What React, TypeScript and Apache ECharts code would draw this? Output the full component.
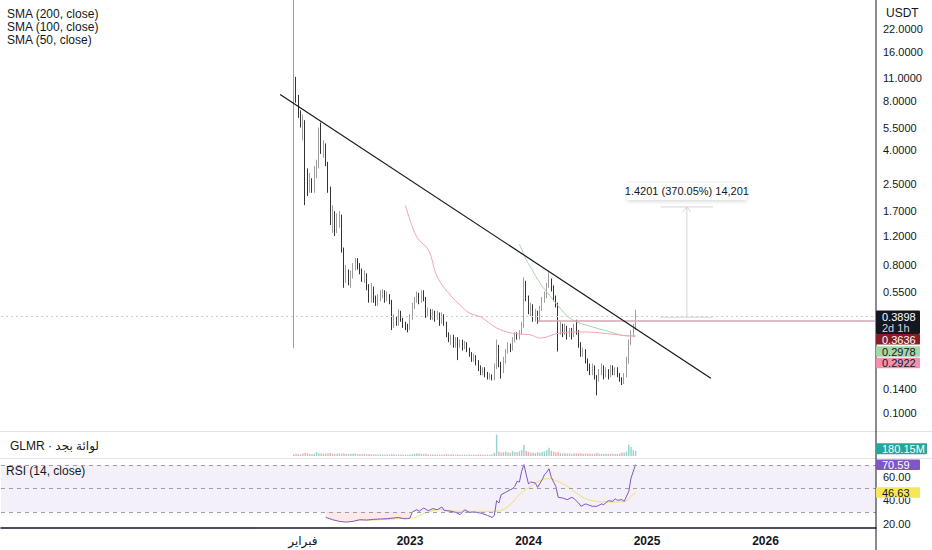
import React, { useEffect, useRef } from 'react';
import * as echarts from 'echarts';

// ---------- weekly slots of the time axis ----------
const TOTAL_WEEKS = 384;
const FIRST_WEEK = 128;

// ---------- GLMR/USDT weekly candles ----------
const OPEN = [0.25,10.3,8.1,6.6,5.7,6.0,2.83,2.3,2.6,2.3,
2.8,3.2,5.3,3.9,4.3,3.3,2.3,1.5,1.65,1.35,
1.55,1.6,1.0,0.65,0.72,0.62,0.7,0.78,0.84,0.8,
0.74,0.66,0.7,0.6,0.48,0.58,0.5,0.47,0.5,0.53,
0.55,0.49,0.52,0.48,0.34,0.38,0.35,0.41,0.37,0.35,
0.33,0.325,0.38,0.45,0.49,0.52,0.48,0.54,0.5,0.4,
0.42,0.39,0.41,0.38,0.4,0.36,0.39,0.35,0.3,0.28,
0.29,0.26,0.28,0.26,0.27,0.255,0.265,0.245,0.23,0.215,
0.22,0.205,0.19,0.18,0.185,0.172,0.165,0.17,0.162,0.19,
0.25,0.2,0.18,0.21,0.235,0.26,0.245,0.28,0.3,0.29,
0.31,0.34,0.62,0.5,0.42,0.45,0.38,0.41,0.37,0.43,
0.49,0.52,0.6,0.64,0.58,0.5,0.46,0.32,0.34,0.31,
0.33,0.3,0.32,0.3,0.33,0.31,0.26,0.23,0.24,0.21,
0.19,0.18,0.19,0.165,0.16,0.18,0.19,0.17,0.18,0.17,
0.19,0.175,0.185,0.17,0.16,0.155,0.17,0.21,0.27,0.3,
0.33];
const CLOSE = [9.5,8.1,6.6,5.7,6.0,2.83,2.3,2.6,2.3,2.8,
3.2,5.3,3.9,4.3,3.3,2.3,1.5,1.65,1.35,1.55,
1.6,1.0,0.65,0.72,0.62,0.7,0.78,0.84,0.8,0.74,
0.66,0.7,0.6,0.48,0.58,0.5,0.47,0.5,0.53,0.55,
0.49,0.52,0.48,0.34,0.38,0.35,0.41,0.37,0.35,0.33,
0.325,0.38,0.45,0.49,0.52,0.48,0.54,0.5,0.4,0.42,
0.39,0.41,0.38,0.4,0.36,0.39,0.35,0.3,0.28,0.29,
0.26,0.28,0.26,0.27,0.255,0.265,0.245,0.23,0.215,0.22,
0.205,0.19,0.18,0.185,0.172,0.165,0.17,0.162,0.19,0.25,
0.2,0.18,0.21,0.235,0.26,0.245,0.28,0.3,0.29,0.31,
0.34,0.62,0.5,0.42,0.45,0.38,0.41,0.37,0.43,0.49,
0.52,0.6,0.64,0.58,0.5,0.46,0.32,0.34,0.31,0.33,
0.3,0.32,0.3,0.33,0.31,0.26,0.23,0.24,0.21,0.19,
0.18,0.19,0.165,0.16,0.18,0.19,0.17,0.18,0.17,0.19,
0.175,0.185,0.17,0.16,0.155,0.17,0.21,0.27,0.3,0.33,
0.3898];
const LOW = [0.248,7.8,6.3,5.5,4.6,1.85,2.1,2.2,2.2,2.2,
2.7,3.1,3.8,3.6,3.2,2.2,1.4,1.25,1.2,1.25,
1.35,0.95,0.58,0.62,0.6,0.58,0.66,0.74,0.75,0.7,
0.63,0.62,0.56,0.47,0.47,0.47,0.45,0.45,0.48,0.5,
0.47,0.48,0.46,0.32,0.33,0.34,0.34,0.36,0.33,0.32,
0.31,0.32,0.37,0.43,0.47,0.46,0.47,0.48,0.38,0.39,
0.37,0.37,0.36,0.37,0.34,0.35,0.34,0.29,0.27,0.26,
0.25,0.25,0.21,0.25,0.24,0.245,0.235,0.22,0.205,0.205,
0.195,0.18,0.17,0.17,0.165,0.16,0.16,0.158,0.158,0.185,
0.19,0.162,0.175,0.2,0.23,0.235,0.24,0.27,0.28,0.28,
0.3,0.33,0.48,0.4,0.39,0.36,0.36,0.35,0.36,0.42,
0.47,0.5,0.58,0.55,0.48,0.44,0.237,0.3,0.29,0.3,
0.28,0.29,0.28,0.29,0.3,0.25,0.22,0.22,0.2,0.18,
0.17,0.17,0.16,0.128,0.155,0.17,0.16,0.165,0.16,0.165,
0.17,0.17,0.165,0.155,0.148,0.15,0.165,0.2,0.26,0.29,
0.32];
const HIGH = [45,11.2,8.7,7.0,6.6,6.1,3.1,2.9,2.7,3.2,
3.5,5.5,5.9,4.6,4.4,3.4,2.4,1.85,1.7,1.65,
1.7,1.62,1.02,0.8,0.75,0.74,0.82,0.88,0.88,0.82,
0.76,0.74,0.71,0.61,0.62,0.59,0.52,0.53,0.56,0.57,
0.56,0.55,0.53,0.49,0.4,0.39,0.43,0.42,0.38,0.36,
0.35,0.4,0.47,0.51,0.55,0.54,0.56,0.56,0.51,0.44,
0.43,0.43,0.42,0.42,0.41,0.41,0.4,0.36,0.31,0.3,
0.3,0.29,0.29,0.28,0.28,0.275,0.27,0.25,0.235,0.23,
0.225,0.21,0.195,0.19,0.19,0.178,0.175,0.172,0.2,0.28,
0.26,0.205,0.22,0.245,0.27,0.265,0.29,0.31,0.31,0.32,
0.36,0.67,0.64,0.52,0.47,0.46,0.43,0.42,0.45,0.51,
0.55,0.62,0.72,0.66,0.6,0.52,0.47,0.36,0.35,0.35,
0.34,0.33,0.33,0.35,0.37,0.32,0.27,0.25,0.245,0.215,
0.2,0.2,0.195,0.17,0.185,0.2,0.195,0.19,0.185,0.196,
0.195,0.19,0.19,0.175,0.165,0.175,0.22,0.28,0.32,0.35,
0.425];
// volume in millions
const VOLUME = [60,75,60,55,90,110,95,70,60,75,
140,100,95,80,90,85,105,80,70,75,
90,80,95,70,65,80,75,90,70,60,
65,75,60,70,55,60,50,55,60,50,
55,50,55,70,60,50,55,50,45,50,
45,55,60,75,100,85,70,65,75,55,
50,50,55,45,50,45,55,60,55,50,
60,45,50,45,45,40,45,50,45,40,
45,50,45,40,45,50,45,50,110,740,
160,120,130,150,120,110,170,140,130,160,
200,390,170,140,110,120,100,130,110,140,
160,200,290,180,150,120,140,100,90,95,
85,90,80,85,95,90,100,80,85,90,
80,75,85,110,80,75,70,75,70,80,
75,70,75,80,120,110,150,390,310,200,
180.15];

// ---------- indicators: [week, value] ----------
const SMA100 = [[99,1.07],[102,0.86],[104,0.77],[108,0.62],[111,0.547],[116,0.45],[122,0.372],[131,0.335],[139,0.312],[146,0.295],[150,0.2978]];
const SMA50 = [[49,1.85],[54,1.18],[59,0.99],[63,0.675],[69,0.517],[73,0.456],[77,0.407],[82,0.385],[89,0.33],[95,0.308],[99,0.303],[104,0.299],[108,0.286],[117,0.308],[126,0.312],[134,0.308],[143,0.299],[150,0.2922]];
const RSI = [[14,25.4],[17,23.4],[20,22],[23,21.4],[26,22],[29,23.4],[32,23.1],[35,23.7],[38,24],[41,24.3],[44,24.9],[46,25.4],[48,24.3],[50,24.3],[51,24.9],[52,30],[54,32],[55,30.6],[57,33.4],[59,31.1],[61,32.9],[63,32],[65,34.3],[66,31.4],[69,30.6],[71,29.7],[73,27.7],[75,32],[77,29.7],[79,30],[82,29.1],[85,27.1],[87,25.4],[88,27],[89,39.7],[90,37.7],[91,44.9],[93,46.9],[95,49.1],[96,50],[97,52],[98,56.3],[99,55.7],[100,64.9],[101,70.6],[102,62],[103,54],[104,55.7],[106,54.9],[107,51.1],[109,57.7],[110,62],[111,64],[112,67.1],[113,59.7],[114,55.7],[115,52],[116,42.6],[118,42],[120,40.6],[122,42.6],[123,41.4],[125,37.7],[126,34.9],[128,36.9],[129,36.3],[131,34.9],[133,34.9],[135,36.9],[136,36.3],[138,39.7],[140,39.1],[141,41.4],[142,40],[144,40.6],[145,39.1],[147,47.7],[148,59.1],[150,70.59]];
const RSI_MA = [[27,23.0],[34,23.1],[41,23.7],[48,24.6],[53,24.9],[55,27.1],[60,30.6],[64,32],[69,31.1],[73,30.6],[79,30.6],[85,30.6],[88,30.6],[91,31.4],[95,36.3],[99,44.9],[104,52],[108,56.9],[112,58.6],[115,56.9],[120,52],[124,46.3],[128,41.4],[133,39.1],[137,38.6],[143,38.6],[146,39.7],[148,43.4],[150,46.63]];
const RSI_LEVELS = [70, 50, 30];

// ---------- axes / drawings ----------
const PRICE_TICKS = [22, 16, 11, 8, 5.5, 4, 2.5, 1.7, 1.2, 0.8, 0.55, 0.14, 0.1];
const RSI_TICKS = [60, 40, 20];
const X_TICKS = [[4, 'فبراير'], [51, '2023'], [103, '2024'], [155, '2025'], [207, '2026']];
const TREND = [[-6, 8.76], [183, 0.163]];
const HRAY = [107, 0.3636];
const MEASURE_SPAN = [161, 184];
const MEASURE_RANGE = [0.3838, 1.8039];
const MEASURE_LABEL = '1.4201 (370.05%) 14,201';
const COUNTDOWN = '2d 1h';
const LEGEND = ['SMA (200, close)', 'SMA (100, close)', 'SMA (50, close)'];
const VOL_TITLE = 'GLMR · لوائة بجد';
const RSI_TITLE = 'RSI (14, close)';
const CURRENCY = 'USDT';

const FONT = '"Liberation Sans", Arial, "DejaVu Sans", sans-serif';
const TEXT = '#131722';
const UP = '#a9a9a9';
const UP_BORDER = '#858585';
const DOWN = '#000000';
const SMA100_COLOR = '#a5d6a7';
const SMA50_COLOR = '#f4a3b3';
const HRAY_COLOR = '#d3a7b0';
const RSI_COLOR = '#7e57c2';
const RSI_MA_COLOR = '#efe16a';

const K = (i: number) => FIRST_WEEK + i;
const CATS = Array.from({ length: TOTAL_WEEKS }, (_, k) => String(k));
const xLabelMap = new Map(X_TICKS.map(([i, l]) => [String(FIRST_WEEK + (i as number)), l as string]));

const GRID_L = 1;
const GRID_R = 56;

function buildOption(): any {
  const candleData = CLOSE.map((c, i) => [K(i), OPEN[i], c, LOW[i], HIGH[i]]);
  const volData = VOLUME.map((v, i) => ({
    value: [K(i), v],
    itemStyle: { color: CLOSE[i] >= OPEN[i] ? 'rgba(38,166,154,0.5)' : 'rgba(239,83,80,0.5)' },
  }));
  const toXY = (arr: number[][]) => arr.map(([i, v]) => [K(i), v]);
  const hidX = (gi: number) => ({
    type: 'category', gridIndex: gi, data: CATS, boundaryGap: true, show: false,
  });
  return {
    animation: false,
    textStyle: { fontFamily: FONT },
    grid: [
      { left: GRID_L, right: GRID_R, top: 0, height: 430, outerBoundsMode: 'none' },
      { left: GRID_L, right: GRID_R, top: 433, height: 23, outerBoundsMode: 'none' },
      { left: GRID_L, right: GRID_R, top: 461, height: 67, outerBoundsMode: 'none' },
    ],
    xAxis: [
      hidX(0),
      hidX(1),
      {
        type: 'category', gridIndex: 2, data: CATS, boundaryGap: true,
        axisLine: { show: true, lineStyle: { color: TEXT, width: 1.5 } },
        axisTick: { show: false },
        splitLine: { show: false },
        axisLabel: {
          interval: 0, margin: 7,
          formatter: (val: string) => {
            const l = xLabelMap.get(val);
            if (!l) return '';
            return /^\d+$/.test(l) ? `{y|${l}}` : `{m|${l}}`;
          },
          rich: {
            y: { fontWeight: 'bold', fontSize: 12, color: TEXT, fontFamily: FONT },
            m: { fontSize: 12, color: TEXT, fontFamily: '"DejaVu Sans", sans-serif' },
          },
        },
      },
    ],
    yAxis: [
      {
        type: 'log', logBase: 10, gridIndex: 0, position: 'right',
        min: 0.0787, max: 32.98,
        axisLine: { show: false }, axisTick: { show: false }, splitLine: { show: false },
        axisLabel: {
          customValues: PRICE_TICKS, margin: 7, color: TEXT, fontSize: 11,
          formatter: (v: number) => Number(v).toFixed(4),
        },
      },
      { type: 'value', gridIndex: 1, min: 0, max: 800, show: false, splitLine: { show: false } },
      {
        type: 'value', gridIndex: 2, position: 'right', min: 16.3, max: 73.7,
        axisLine: { show: false }, axisTick: { show: false }, splitLine: { show: false },
        axisLabel: {
          customValues: RSI_TICKS, margin: 7, color: TEXT, fontSize: 11,
          formatter: (v: number) => Number(v).toFixed(2),
        },
      },
    ],
    series: [
      {
        type: 'candlestick', xAxisIndex: 0, yAxisIndex: 0,
        data: candleData, encode: { x: 0, y: [1, 2, 3, 4] },
        barWidth: 1.3, clip: true,
        itemStyle: { color: UP, color0: DOWN, borderColor: UP_BORDER, borderColor0: DOWN, borderWidth: 0.8 },
        markLine: {
          silent: true, symbol: ['none', 'none'], label: { show: false },
          lineStyle: { type: [2, 3], color: '#c9ccd4', width: 1 },
          data: [{ yAxis: CLOSE[CLOSE.length - 1] }],
        },
      },
      {
        type: 'line', xAxisIndex: 0, yAxisIndex: 0, data: toXY(SMA100), smooth: 0.4,
        symbol: 'none', lineStyle: { color: SMA100_COLOR, width: 1 },
      },
      {
        type: 'line', xAxisIndex: 0, yAxisIndex: 0, data: toXY(SMA50), smooth: 0.4,
        symbol: 'none', lineStyle: { color: SMA50_COLOR, width: 1 },
      },
      {
        type: 'line', xAxisIndex: 0, yAxisIndex: 0,
        data: [[K(HRAY[0]), HRAY[1]], [TOTAL_WEEKS - 1, HRAY[1]]],
        symbol: 'none', lineStyle: { color: HRAY_COLOR, width: 1.6 },
      },
      {
        type: 'line', xAxisIndex: 0, yAxisIndex: 0, data: toXY(TREND),
        symbol: 'none', lineStyle: { color: TEXT, width: 1.2 }, z: 5,
      },
      {
        type: 'bar', xAxisIndex: 1, yAxisIndex: 1, data: volData, barWidth: 1.4,
      },
      {
        type: 'line', xAxisIndex: 2, yAxisIndex: 2,
        data: toXY(RSI.filter(([i]) => i <= 52)), symbol: 'none',
        lineStyle: { width: 0, opacity: 0 },
        areaStyle: { origin: 30, color: 'rgba(242,54,69,0.16)' },
      },
      {
        type: 'line', xAxisIndex: 2, yAxisIndex: 2, data: toXY(RSI),
        symbol: 'none', lineStyle: { color: RSI_COLOR, width: 1 }, z: 4,
        markArea: {
          silent: true, itemStyle: { color: 'rgba(126,87,194,0.09)' },
          data: [[{ yAxis: RSI_LEVELS[2] }, { yAxis: RSI_LEVELS[0] }]],
        },
        markLine: {
          silent: true, symbol: ['none', 'none'], label: { show: false },
          lineStyle: { type: [4, 4], color: '#9b9ea8', width: 1 },
          data: RSI_LEVELS.map((v) => ({ yAxis: v })),
        },
      },
      {
        type: 'line', xAxisIndex: 2, yAxisIndex: 2, data: toXY(RSI_MA), smooth: 0.4,
        symbol: 'none', lineStyle: { color: RSI_MA_COLOR, width: 1 }, z: 3,
      },
    ],
  };
}

function txt(x: number, y: number, text: string, fill: string, size = 11, align = 'left', weight = 'normal', family = FONT): any {
  return {
    type: 'text', x, y, z: 100,
    style: {
      text, fill, fontSize: size, fontFamily: family, fontWeight: weight,
      textAlign: align, textVerticalAlign: 'middle', align, verticalAlign: 'middle',
    },
  };
}
function box(x: number, y: number, w: number, h: number, fill: string, text: string, color: string): any[] {
  return [
    { type: 'rect', z: 99, shape: { x, y, width: w, height: h, r: 1 }, style: { fill } },
    txt(x + 6, y + h / 2 + 0.5, text, color, 11),
  ];
}

function buildGraphics(chart: any): any[] {
  const g: any[] = [];
  const W = 932;
  const axisX = 932 - GRID_R;
  // pane separators and the price-scale border
  g.push({ type: 'line', z: 50, shape: { x1: 0, y1: 431.5, x2: W, y2: 431.5 }, style: { stroke: '#e0e3eb', lineWidth: 1 } });
  g.push({ type: 'line', z: 50, shape: { x1: 0, y1: 458.5, x2: W, y2: 458.5 }, style: { stroke: '#e0e3eb', lineWidth: 1 } });
  g.push({ type: 'line', z: 60, shape: { x1: axisX, y1: 0, x2: axisX, y2: 550 }, style: { stroke: TEXT, lineWidth: 1 } });

  // legends / pane titles
  LEGEND.forEach((s, n) => g.push(txt(7, 14 + n * 12.8, s, TEXT, 12)));
  g.push(txt(10, 446, VOL_TITLE, TEXT, 12, 'left', 'normal', '"Liberation Sans", "DejaVu Sans", sans-serif'));
  g.push(txt(6, 471, RSI_TITLE, TEXT, 12));
  g.push(txt(886, 13, CURRENCY, TEXT, 12));

  // price scale value labels
  const last = CLOSE[CLOSE.length - 1];
  const yP = chart.convertToPixel({ yAxisIndex: 0 }, last);
  const lx = axisX;
  const lw = 44;
  const top0 = yP - 5.5;
  g.push({ type: 'rect', z: 99, shape: { x: lx, y: top0, width: lw, height: 23.5, r: 1 }, style: { fill: TEXT } });
  g.push(txt(lx + 6, top0 + 6.5, last.toFixed(4), '#ffffff', 11));
  g.push(txt(lx + 6, top0 + 17.5, COUNTDOWN, '#d1d4dc', 11));
  const top1 = top0 + 23.5;
  g.push(...box(lx, top1, lw, 10.5, '#8a1c26', HRAY[1].toFixed(4), '#ffffff'));
  const top2 = top1 + 12.3;
  g.push(...box(lx, top2, lw, 10.5, SMA100_COLOR, SMA100[SMA100.length - 1][1].toFixed(4), TEXT));
  const top3 = top2 + 11.3;
  g.push(...box(lx, top3, lw, 10.5, '#f48fb1', SMA50[SMA50.length - 1][1].toFixed(4), TEXT));

  // volume label
  const vLast = VOLUME[VOLUME.length - 1];
  const yV = chart.convertToPixel({ yAxisIndex: 1 }, vLast);
  g.push(...box(lx, yV - 7.5, 51, 11, '#26a69a', vLast.toFixed(2) + 'M', '#ffffff'));

  // RSI labels
  const rLast = RSI[RSI.length - 1][1];
  const mLast = RSI_MA[RSI_MA.length - 1][1];
  const yR = chart.convertToPixel({ yAxisIndex: 2 }, rLast);
  const yM = chart.convertToPixel({ yAxisIndex: 2 }, mLast);
  g.push(...box(lx, yR - 5.25, lw, 10.5, RSI_COLOR, rLast.toFixed(2), '#ffffff'));
  g.push(...box(lx, yM - 5.25, lw, 10.5, '#f5e65a', mLast.toFixed(2), TEXT));

  // measuring tool
  const p0 = chart.convertToPixel({ gridIndex: 0 }, [K(MEASURE_SPAN[0]), MEASURE_RANGE[0]]);
  const p1 = chart.convertToPixel({ gridIndex: 0 }, [K(MEASURE_SPAN[1]), MEASURE_RANGE[1]]);
  const xs = p0[0], xe = p1[0], yb = p0[1], yt = p1[1];
  const xm = (xs + xe) / 2;
  const mc = '#d1d4dc';
  g.push({ type: 'line', z: 40, shape: { x1: xs, y1: yt, x2: xe, y2: yt }, style: { stroke: mc, lineWidth: 1 } });
  g.push({ type: 'line', z: 40, shape: { x1: xs, y1: yb, x2: xe, y2: yb }, style: { stroke: mc, lineWidth: 1 } });
  g.push({ type: 'line', z: 40, shape: { x1: xm, y1: yb, x2: xm, y2: yt }, style: { stroke: mc, lineWidth: 1 } });
  g.push({ type: 'polyline', z: 40, shape: { points: [[xm - 4, yt + 5], [xm, yt], [xm + 4, yt + 5]] }, style: { stroke: mc, lineWidth: 1, fill: 'none' } });
  g.push({
    type: 'rect', z: 41, shape: { x: xm - 60, y: yt - 24, width: 120, height: 17, r: 2 },
    style: { fill: '#ffffff', shadowBlur: 4, shadowColor: 'rgba(0,0,0,0.18)', shadowOffsetY: 1 },
  });
  g.push(txt(xm, yt - 15.5, MEASURE_LABEL, TEXT, 11, 'center'));
  return g;
}

export default function App() {
  const ref = useRef<HTMLDivElement>(null);
  useEffect(() => {
    document.body.style.margin = '0';
    const chart = echarts.init(ref.current as HTMLDivElement, null, { renderer: 'svg' });
    chart.setOption(buildOption());
    chart.setOption({ graphic: buildGraphics(chart) });
    return () => chart.dispose();
  }, []);
  return <div ref={ref} style={{ width: 932, height: 550, background: '#ffffff' }} />;
}
